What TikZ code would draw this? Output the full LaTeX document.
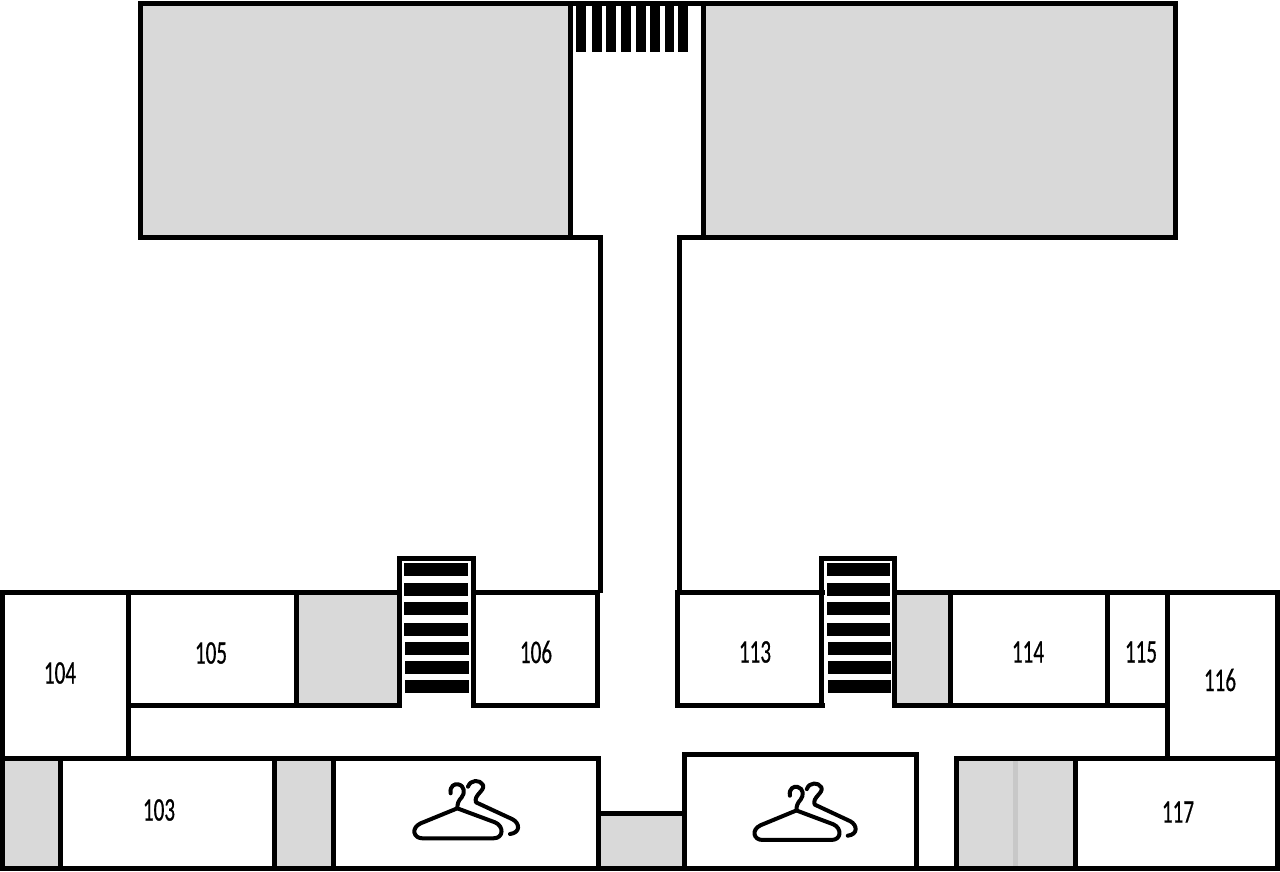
\documentclass[tikz,border=0pt]{standalone}
\usepackage{graphicx}
\usepackage{fontspec}
\newfontfamily\roomfont[FakeBold=0.7]{Carlito}
\definecolor{roomgray}{HTML}{D9D9D9}
\definecolor{seamgray}{HTML}{C8C8C8}
\newcommand{\roomlabel}[1]{\scalebox{0.64}[1]{\roomfont\fontsize{33pt}{33pt}\selectfont #1}}
\tikzset{
  wall/.style={line width=5pt,line cap=rect,line join=miter,black},
  graybox/.style={fill=roomgray,draw=none},
  bar/.style={fill=black,draw=none},
  room/.style={inner sep=0pt,text=black},
  hangerline/.style={line width=4pt,line cap=round,line join=round,black}
}
\newcommand{\hanger}[3]{%
  \begin{scope}[shift={#1},x=#2pt,y=-#3pt]
    \draw[hangerline] (212,160) .. controls (208,138) and (225,130) .. (235,133)
      .. controls (255,138) and (255,160) .. (245,172)
      .. controls (235,182) and (232,192) .. (232,205);
    \draw[hangerline] (232,205)
      -- (122,250) .. controls (92,264) and (100,295) .. (128,295)
      -- (340,295) .. controls (372,295) and (372,258) .. (345,247) -- cycle;
    \draw[hangerline] (264,140) .. controls (272,118) and (300,118) .. (309,135)
      .. controls (316,152) and (280,165) .. (288,187)
      -- (398,238) .. controls (420,250) and (422,278) .. (390,282);
  \end{scope}}
\begin{document}
\begin{tikzpicture}[x=1pt,y=-1pt]
\useasboundingbox (0,0) rectangle (1280,871);
\fill[white] (0,0) rectangle (1280,871);
% gray areas
\fill[graybox] (140,2) rectangle (570,237);
\fill[graybox] (703,2) rectangle (1175,237);
\fill[graybox] (296,592) rectangle (400,705);
\fill[graybox] (894,592) rectangle (950,705);
\fill[graybox] (2,758) rectangle (60,868);
\fill[graybox] (274,758) rectangle (333,868);
\fill[graybox] (598,813) rectangle (684,868);
\fill[graybox] (956,758) rectangle (1075,868);
\fill[seamgray] (1013,761) rectangle (1018,866);
% top building
\draw[wall] (570,237) -- (140.5,237) -- (140.5,3) -- (1175,3) -- (1175,237) -- (703.5,237);
\draw[wall] (570,3) -- (570,237);
\draw[wall] (703.5,3) -- (703.5,237);
% corridor
\draw[wall] (570,237) -- (600,237) -- (600,590);
\draw[wall] (703.5,237) -- (679,237) -- (679,590);
% top stair bars
\foreach \a/\b in {576/586,592/602,606/616,621/631,636/646,650/660,665/674,678/688}
  \fill[bar] (\a,5) rectangle (\b,52);
% left wing
\draw[wall] (2,592) -- (399.5,592);
\draw[wall] (473.5,592) -- (597.5,592) -- (597.5,705.5) -- (473.5,705.5);
\draw[wall] (399.5,705.5) -- (128,705.5);
\draw[wall] (2,592) -- (2,868);
\draw[wall] (128,592) -- (128,758);
\draw[wall] (296,592) -- (296,705.5);
\draw[wall] (2,758) -- (598,758) -- (598,868);
\draw[wall] (60,758) -- (60,868);
\draw[wall] (274,758) -- (274,868);
\draw[wall] (333,758) -- (333,868);
% left stairs
\draw[wall,line cap=butt] (399.5,708) -- (399.5,558.5) -- (473.5,558.5) -- (473.5,708);
\foreach \a/\b/\c in {563/576/404,583/596/404,602/615/404,623/636/404,642/655/405,661/674/405,680/693/405}
  \fill[bar] (\c,\a) rectangle (\c+64,\b);
% right wing
\draw[wall] (677,592) -- (822,592);
\draw[wall] (894.5,592) -- (1277.5,592) -- (1277.5,868);
\draw[wall] (677,592) -- (677,705.5) -- (822,705.5);
\draw[wall] (894.5,705.5) -- (1167.5,705.5);
\draw[wall] (950,592) -- (950,705.5);
\draw[wall] (1107.5,592) -- (1107.5,705.5);
\draw[wall] (1167.5,592) -- (1167.5,758);
% right stairs
\draw[wall,line cap=butt] (821.5,708) -- (821.5,558.5) -- (894.5,558.5) -- (894.5,708);
\foreach \a/\b/\c in {563/576/827,583/596/827,602/615/827,623/636/827,642/655/828,661/674/828,680/693/828}
  \fill[bar] (\c,\a) rectangle (\c+63,\b);
% bottom row
\draw[wall] (598,813) -- (684,813);
\draw[wall] (684.5,868) -- (684.5,754.5) -- (916.5,754.5) -- (916.5,868);
\draw[wall] (956,868) -- (956,758.5) -- (1277.5,758.5);
\draw[wall] (1075.5,758.5) -- (1075.5,868);
\draw[wall,line cap=butt] (0,868.5) -- (1280,868.5);
% hangers
\hanger{(380,740)}{0.3333}{0.3333}
\hanger{(721,743.2)}{0.325}{0.328}
% labels
\node[room] (r104) at (60,673) {\roomlabel{104}};
\node[room] (r105) at (211,653) {\roomlabel{105}};
\node[room] (r106) at (536,652) {\roomlabel{106}};
\node[room] (r103) at (159,810) {\roomlabel{103}};
\node[room] (r113) at (755,652) {\roomlabel{113}};
\node[room] (r114) at (1028,652) {\roomlabel{114}};
\node[room] (r115) at (1141,652) {\roomlabel{115}};
\node[room] (r116) at (1220,680) {\roomlabel{116}};
\node[room] (r117) at (1178,812) {\roomlabel{117}};
\end{tikzpicture}
\end{document}
